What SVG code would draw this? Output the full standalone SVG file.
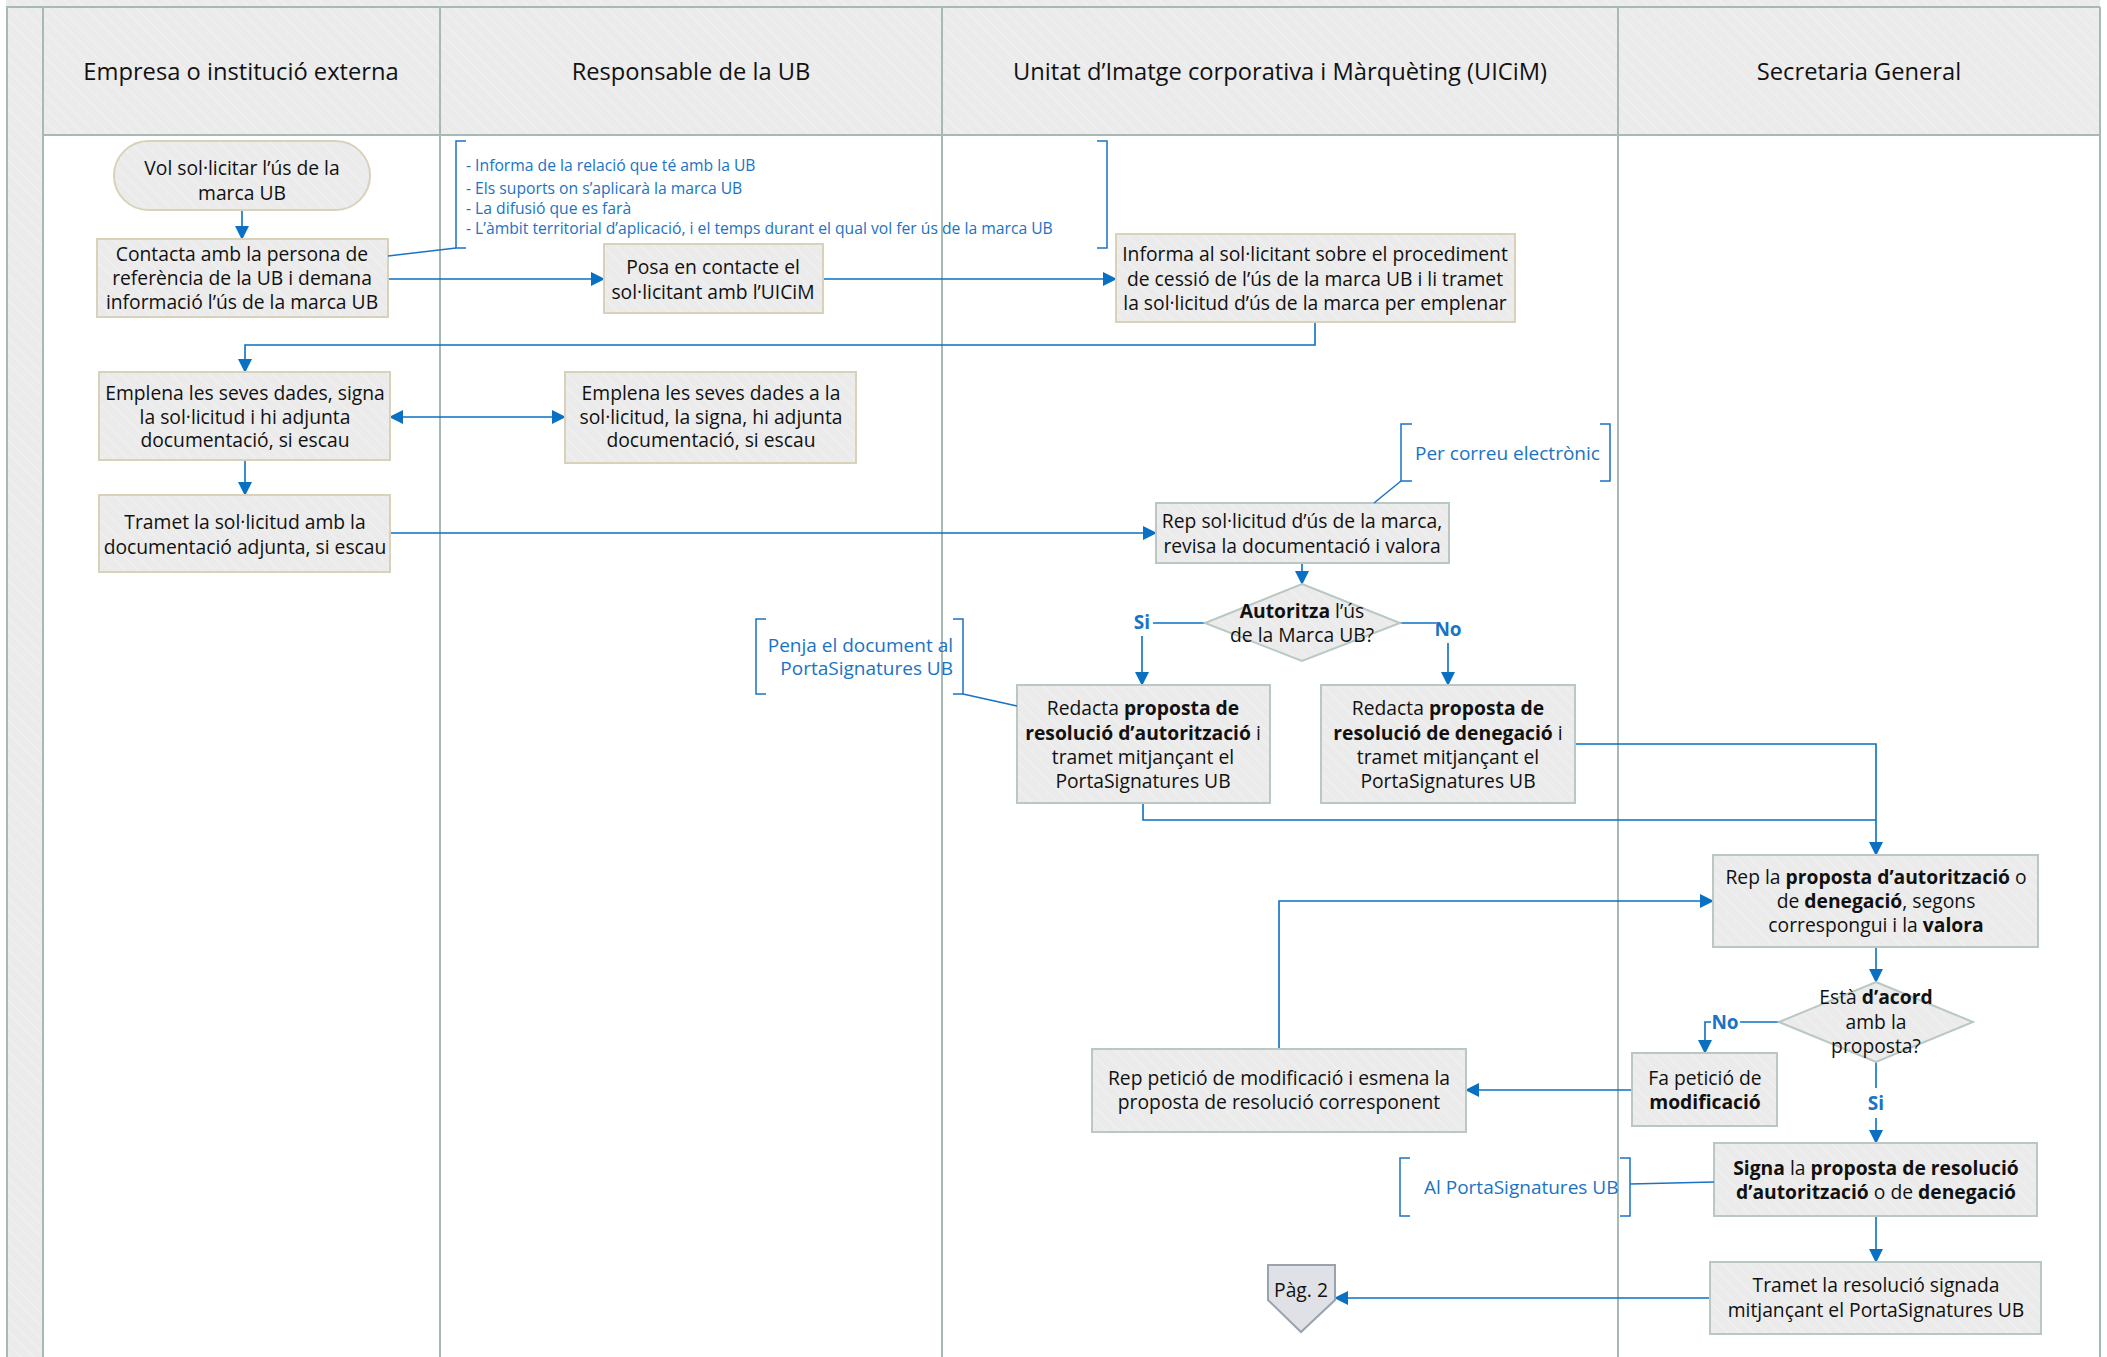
<svg xmlns="http://www.w3.org/2000/svg" width="2107" height="1357" viewBox="0 0 2107 1357">
<style>
.lane{fill:none;stroke:#a6bab3;stroke-width:2}
.box{fill:url(#hatch);stroke:#b9c8c3;stroke-width:2}
.boxt{fill:url(#hatch);stroke:#d8d2ba;stroke-width:2}
.t{font-family:"Open Sans","Liberation Sans",sans-serif;font-size:19.3px;fill:#111;text-anchor:middle}
.h{font-family:"Open Sans","Liberation Sans",sans-serif;font-size:23.7px;fill:#111;text-anchor:middle}
.a{font-family:"Open Sans","Liberation Sans",sans-serif;font-size:15.7px;fill:#1a73c4}
.a2{font-family:"Open Sans","Liberation Sans",sans-serif;font-size:19px;fill:#1a73c4}
.lbl{font-family:"Open Sans","Liberation Sans",sans-serif;font-size:19px;font-weight:bold;fill:#1a73c4;text-anchor:middle}
.b{font-weight:bold}
.c{fill:none;stroke:#0a70c4;stroke-width:1.6}
.ca{fill:none;stroke:#0a70c4;stroke-width:1.6;marker-end:url(#arr)}
.br{fill:none;stroke:#1a73c4;stroke-width:1.5}
</style>
<defs>
<pattern id="hatch" width="9" height="9" patternUnits="userSpaceOnUse" patternTransform="rotate(-45)">
<rect width="9" height="9" fill="#ebebeb"/>
<line x1="0" y1="0" x2="0" y2="9" stroke="#f4f4f4" stroke-width="1.5"/>
</pattern>
<marker id="arr" markerWidth="14" markerHeight="14" refX="13" refY="7" orient="auto" markerUnits="userSpaceOnUse">
<path d="M0,0 L14,7 L0,14 z" fill="#0a70c4"/>
</marker>
<marker id="arrs" markerWidth="14" markerHeight="14" refX="1" refY="7" orient="auto" markerUnits="userSpaceOnUse">
<path d="M14,0 L0,7 L14,14 z" fill="#0a70c4"/>
</marker>
</defs>
<rect width="2107" height="1357" fill="#ffffff"/>
<g id="pool">
<rect x="6" y="0" width="2094" height="7" fill="url(#hatch)"/>
<rect x="7" y="7" width="36" height="1350" fill="url(#hatch)"/>
<rect x="43" y="7" width="2057" height="128" fill="url(#hatch)"/>
<path class="lane" d="M6,7 H2100 M7,7 V1357 M43,7 V1357 M440,7 V1357 M942,7 V1357 M1618,7 V1357 M2100,7 V1357 M43,135 H2100"/>
<text class="h" x="241" y="80">Empresa o institució externa</text>
<text class="h" x="691" y="80">Responsable de la UB</text>
<text class="h" x="1280" y="80">Unitat d’Imatge corporativa i Màrquèting (UICiM)</text>
<text class="h" x="1859" y="80">Secretaria General</text>
</g>
<g id="connectors">
<path class="ca" d="M242,210 V239"/>
<path class="ca" d="M388,279 H604"/>
<path class="ca" d="M823,279 H1116"/>
<path class="ca" d="M1315,322 V345 H245 V372"/>
<path class="c" d="M390,417 H565" marker-start="url(#arrs)" marker-end="url(#arr)"/>
<path class="ca" d="M245,460 V495"/>
<path class="ca" d="M390,533 H1156"/>
<path class="ca" d="M1302,563 V584"/>
<path class="c" d="M1205,623 H1153"/>
<path class="ca" d="M1142,636 V685"/>
<path class="c" d="M1400,623 H1436"/>
<path class="ca" d="M1448,643 V685"/>
<path class="ca" d="M1575,744 H1876 V855"/>
<path class="c" d="M1143,803 V820 H1876"/>
<path class="ca" d="M1279,1049 V901 H1713"/>
<path class="ca" d="M1876,947 V982"/>
<path class="c" d="M1779,1022 H1740"/>
<path class="ca" d="M1711,1022 H1705 V1053"/>
<path class="c" d="M1876,1062 V1088"/>
<path class="ca" d="M1876,1118 V1143"/>
<path class="ca" d="M1632,1090 H1466"/>
<path class="ca" d="M1876,1216 V1262"/>
<path class="ca" d="M1710,1298 H1335"/>
<text class="lbl" x="1142" y="629">Si</text>
<text class="lbl" x="1448" y="636">No</text>
<text class="lbl" x="1725" y="1029">No</text>
<text class="lbl" x="1876" y="1110">Si</text>
</g>
<g id="n_start">
<rect class="boxt" x="114" y="141" width="256" height="69" rx="34.5"/>
<text class="t" x="242" y="175">Vol sol·licitar l’ús de la</text>
<text class="t" x="242" y="200">marca UB</text>
</g>
<g id="n_contacta">
<rect class="boxt" x="97" y="239" width="291" height="78"/>
<text class="t" x="242" y="261">Contacta amb la persona de</text>
<text class="t" x="242" y="285">referència de la UB i demana</text>
<text class="t" x="242" y="309">informació l’ús de la marca UB</text>
</g>
<g id="n_posa">
<rect class="boxt" x="604" y="244" width="219" height="69"/>
<text class="t" x="713" y="274">Posa en contacte el</text>
<text class="t" x="713" y="299">sol·licitant amb l’UICiM</text>
</g>
<g id="n_informa">
<rect class="boxt" x="1116" y="234" width="399" height="88"/>
<text class="t" x="1315" y="261">Informa al sol·licitant sobre el procediment</text>
<text class="t" x="1315" y="286">de cessió de l’ús de la marca UB i li tramet</text>
<text class="t" x="1315" y="310">la sol·licitud d’ús de la marca per emplenar</text>
</g>
<g id="n_emplena1">
<rect class="boxt" x="99" y="372" width="291" height="88"/>
<text class="t" x="245" y="400">Emplena les seves dades, signa</text>
<text class="t" x="245" y="424">la sol·licitud i hi adjunta</text>
<text class="t" x="245" y="447">documentació, si escau</text>
</g>
<g id="n_emplena2">
<rect class="boxt" x="565" y="372" width="291" height="91"/>
<text class="t" x="711" y="400">Emplena les seves dades a la</text>
<text class="t" x="711" y="424">sol·licitud, la signa, hi adjunta</text>
<text class="t" x="711" y="447">documentació, si escau</text>
</g>
<g id="n_tramet1">
<rect class="boxt" x="99" y="495" width="291" height="77"/>
<text class="t" x="245" y="529">Tramet la sol·licitud amb la</text>
<text class="t" x="245" y="554">documentació adjunta, si escau</text>
</g>
<g id="n_rep">
<rect class="box" x="1156" y="503" width="293" height="60"/>
<text class="t" x="1302" y="528">Rep sol·licitud d’ús de la marca,</text>
<text class="t" x="1302" y="553">revisa la documentació i valora</text>
</g>
<g id="n_autoritza">
<polygon class="box" points="1302,584 1400,623 1302,661 1205,623"/>
<text class="t" x="1302" y="618"><tspan class="b">Autoritza</tspan> l’ús</text>
<text class="t" x="1302" y="642">de la Marca UB?</text>
</g>
<g id="n_redacta1">
<rect class="box" x="1017" y="685" width="253" height="118"/>
<text class="t" x="1143" y="715">Redacta <tspan class="b">proposta de</tspan></text>
<text class="t" x="1143" y="740"><tspan class="b">resolució d’autorització</tspan> i</text>
<text class="t" x="1143" y="764">tramet mitjançant el</text>
<text class="t" x="1143" y="788">PortaSignatures UB</text>
</g>
<g id="n_redacta2">
<rect class="box" x="1321" y="685" width="254" height="118"/>
<text class="t" x="1448" y="715">Redacta <tspan class="b">proposta de</tspan></text>
<text class="t" x="1448" y="740"><tspan class="b">resolució de denegació</tspan> i</text>
<text class="t" x="1448" y="764">tramet mitjançant el</text>
<text class="t" x="1448" y="788">PortaSignatures UB</text>
</g>
<g id="n_repla">
<rect class="box" x="1713" y="855" width="325" height="92"/>
<text class="t" x="1876" y="884">Rep la <tspan class="b">proposta d’autorització</tspan> o</text>
<text class="t" x="1876" y="908">de <tspan class="b">denegació</tspan>, segons</text>
<text class="t" x="1876" y="932">correspongui i la <tspan class="b">valora</tspan></text>
</g>
<g id="n_acord">
<polygon class="box" points="1876,982 1973,1022 1876,1062 1779,1022"/>
<text class="t" x="1876" y="1004">Està <tspan class="b">d’acord</tspan></text>
<text class="t" x="1876" y="1029">amb la</text>
<text class="t" x="1876" y="1053">proposta?</text>
</g>
<g id="n_fapeticio">
<rect class="box" x="1632" y="1053" width="145" height="73"/>
<text class="t" x="1705" y="1085">Fa petició de</text>
<text class="t b" x="1705" y="1109">modificació</text>
</g>
<g id="n_reppeticio">
<rect class="box" x="1092" y="1049" width="374" height="83"/>
<text class="t" x="1279" y="1085">Rep petició de modificació i esmena la</text>
<text class="t" x="1279" y="1109">proposta de resolució corresponent</text>
</g>
<g id="n_signa">
<rect class="box" x="1714" y="1143" width="323" height="73"/>
<text class="t" x="1876" y="1175"><tspan class="b">Signa</tspan> la <tspan class="b">proposta de resolució</tspan></text>
<text class="t" x="1876" y="1199"><tspan class="b">d’autorització</tspan> o de <tspan class="b">denegació</tspan></text>
</g>
<g id="n_tramet2">
<rect class="box" x="1710" y="1262" width="331" height="72"/>
<text class="t" x="1876" y="1292">Tramet la resolució signada</text>
<text class="t" x="1876" y="1317">mitjançant el PortaSignatures UB</text>
</g>
<g id="n_pag2">
<polygon points="1268,1265 1335,1265 1335,1300 1301,1332 1268,1300" fill="#dfe1e6" stroke="#9aa3ad" stroke-width="2"/>
<text class="t" x="1301" y="1297">Pàg. 2</text>
</g>
<g id="ann_informa">
<path class="br" d="M466,141 H456 V248 H466 M1097,141 H1107 V248 H1097"/>
<path class="br" d="M388,256 L456,248"/>
<text class="a" x="466" y="171">- Informa de la relació que té amb la UB</text>
<text class="a" x="466" y="194">- Els suports on s’aplicarà la marca UB</text>
<text class="a" x="466" y="214">- La difusió que es farà</text>
<text class="a" x="466" y="234">- L’àmbit territorial d’aplicació, i el temps durant el qual vol fer ús de la marca UB</text>
</g>
<g id="ann_correu">
<path class="br" d="M1412,424 H1401 V481 H1412 M1600,424 H1610 V481 H1600"/>
<path class="br" d="M1401,481 L1374,503"/>
<text class="a2" x="1415" y="460">Per correu electrònic</text>
</g>
<g id="ann_penja">
<path class="br" d="M766,619 H756 V694 H766 M953,619 H963 V694 H953"/>
<path class="br" d="M963,694 L1017,706"/>
<text class="a2" x="953" y="652" text-anchor="end">Penja el document al</text>
<text class="a2" x="953" y="675" text-anchor="end">PortaSignatures UB</text>
</g>
<g id="ann_porta">
<path class="br" d="M1410,1158 H1400 V1216 H1410 M1620,1158 H1630 V1216 H1620"/>
<path class="br" d="M1630,1184 L1714,1182"/>
<text class="a2" x="1424" y="1194">Al PortaSignatures UB</text>
</g>
</svg>
